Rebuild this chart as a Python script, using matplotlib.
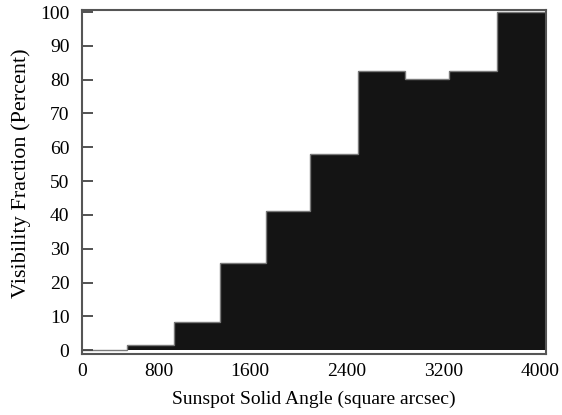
import numpy as np
import matplotlib
matplotlib.use("Agg")
import matplotlib.pyplot as plt

# visibility fraction per solid-angle bin
bin_edges = [0, 390, 790, 1190, 1590, 1970, 2380, 2790, 3170, 3580, 4000]
visibility = [0, 1.5, 8.4, 25.7, 41.1, 58.1, 82.7, 80.3, 82.7, 100]

x_tick_pos = [0, 660, 1445, 2285, 3120, 3950]
x_tick_labels = ["0", "800", "1600", "2400", "3200", "4000"]
y_ticks = [0, 10, 20, 30, 40, 50, 60, 70, 80, 90, 100]

plt.rcParams["font.family"] = ["Liberation Serif", "DejaVu Serif"]

fig = plt.figure(figsize=(5.62, 4.15), dpi=100)
ax = fig.add_axes([0.1459, 0.1463, 0.8251, 0.8296])

ax.stairs(visibility, bin_edges, fill=True, color="#141414", baseline=0)
ax.stairs(visibility, bin_edges, color="#7a7a7a", linewidth=1.0, baseline=None)

ax.set_xlim(0, 4000)
ax.set_ylim(-1.2, 100.6)

ax.set_xticks(x_tick_pos)
ax.set_xticklabels(x_tick_labels)
ax.set_yticks(y_ticks)
ax.tick_params(axis="x", length=0, pad=6, labelsize=14)
ax.tick_params(axis="y", direction="in", length=8, width=1.3,
               color="#444444", pad=9, labelsize=14)

for s in ax.spines.values():
    s.set_color("#555555")
    s.set_linewidth(1.5)

ax.set_xlabel("Sunspot Solid Angle (square arcsec)", fontsize=14, labelpad=8)
ax.set_ylabel("Visibility Fraction (Percent)", fontsize=16)
ax.yaxis.set_label_coords(-0.11, 0.527)

fig.savefig("out.png", dpi=100)
